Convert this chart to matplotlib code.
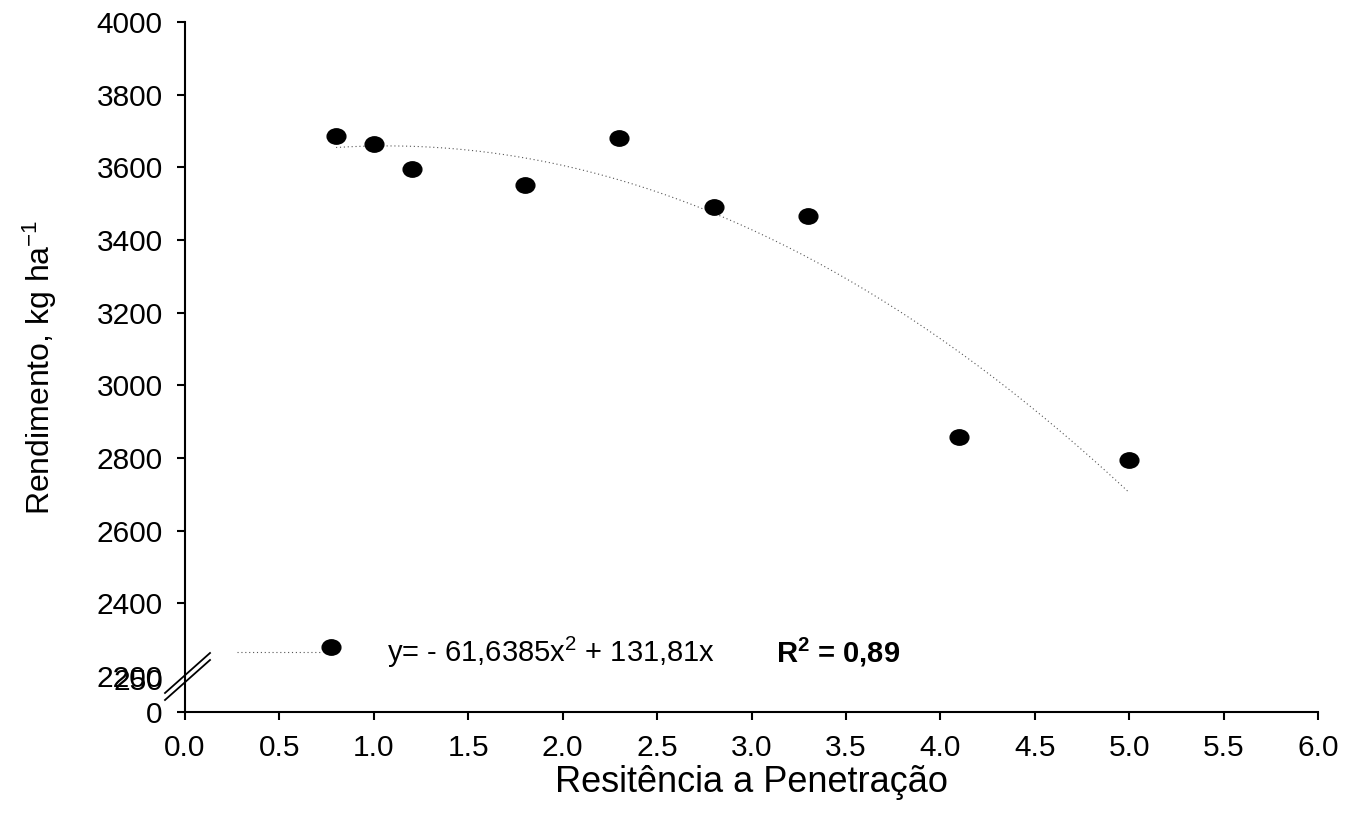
import numpy as np
import matplotlib
matplotlib.use("Agg")
import matplotlib.pyplot as plt
from matplotlib.path import Path
from matplotlib.transforms import Affine2D
from matplotlib.ticker import FixedLocator, FixedFormatter

plt.rcParams['font.family'] = ['Liberation Sans', 'DejaVu Sans']
plt.rcParams['mathtext.fontset'] = 'custom'
plt.rcParams['mathtext.rm'] = 'Liberation Sans'
plt.rcParams['mathtext.it'] = 'Liberation Sans'
plt.rcParams['mathtext.bf'] = 'Liberation Sans:bold'
plt.rcParams['axes.unicode_minus'] = False

# Data
resistencia = [0.8, 1.0, 1.2, 1.8, 2.3, 2.8, 3.3, 4.1, 5.0]
rendimento = [3685, 3664, 3595, 3550, 3680, 3492, 3465, 2858, 2795]
x_ticks = [0.0, 0.5, 1.0, 1.5, 2.0, 2.5, 3.0, 3.5, 4.0, 4.5, 5.0, 5.5, 6.0]
y_ticks_major = [0, 2400, 2600, 2800, 3000, 3200, 3400, 3600, 3800, 4000]
y_ticks_break = [250, 2200]
equation = r"y= - 61,6385x$^2$ + 131,81x"
r2_text = r"R$\mathbf{^2}$ = 0,89"

# Broken y-scale
def fwd(y):
    y = np.asarray(y, dtype=float)
    return np.where(y <= 250, y * (33.0 / 250),
           np.where(y <= 2200, 33 + (y - 250) * (3.0 / 1950),
                    36 + (y - 2200) * 0.3633))

def inv(v):
    v = np.asarray(v, dtype=float)
    return np.where(v <= 33, v * 250 / 33.0,
           np.where(v <= 36, 250 + (v - 33) * 1950 / 3.0,
                    2200 + (v - 36) / 0.3633))

W, H = 1346, 826
fig = plt.figure(figsize=(W / 100, H / 100), dpi=100)
ax = fig.add_axes([185 / W, 1 - 712 / H, (1318 - 185) / W, (712 - 22) / H])
ax.set_yscale('function', functions=(fwd, inv))
ax.set_xlim(0, 6)
ax.set_ylim(0, 4000)

# trend (quadratic fit of the points)
coef = np.polyfit(resistencia, rendimento, 2)
xs = np.linspace(min(resistencia), max(resistencia), 200)
ax.plot(xs, np.polyval(coef, xs), linestyle=(0, (1, 2.5)), color='#555555', linewidth=0.8)

ell = Path(Affine2D().scale(1.0, 0.82).transform(Path.unit_circle().vertices), Path.unit_circle().codes)
ax.plot(resistencia, rendimento, linestyle='none', marker=ell, markersize=13.5, color='black')

for s in ['top', 'right']:
    ax.spines[s].set_visible(False)
for s in ['left', 'bottom']:
    ax.spines[s].set_linewidth(1.5)

ax.set_xticks(x_ticks)
ax.set_xticklabels([f"{v:.1f}" for v in x_ticks])
ax.yaxis.set_major_locator(FixedLocator(y_ticks_major))
ax.yaxis.set_major_formatter(FixedFormatter([str(v) for v in y_ticks_major]))
ax.yaxis.set_minor_locator(FixedLocator(y_ticks_break))
ax.yaxis.set_minor_formatter(FixedFormatter([str(v) for v in y_ticks_break]))
ax.tick_params(axis='both', which='major', direction='out', length=6, width=1.5, labelsize=21.5, pad=10)
ax.tick_params(axis='y', which='minor', length=0, labelsize=21.5, pad=16)

ax.set_xlabel("Resitência a Penetração", fontsize=26)
ax.xaxis.set_label_coords(0.5, (712 - 782) / 690)
ax.xaxis.label.set_va('center')
ax.set_ylabel(r"Rendimento, kg ha$^{-1}$", fontsize=23)
ax.yaxis.set_label_coords((40 - 185) / 1133, 0.5)
ax.yaxis.label.set_va('center')

# break marks (figure pixel coords)
for dy in (0, 7):
    ax.plot([165, 210], [H - (700 - dy), H - (660 - dy)], transform=None, color='black',
            linewidth=1.3, clip_on=False)

# legend-like annotation
ax.plot([237, 320], [H - 652, H - 652], transform=None, linestyle=(0, (1, 2.5)), color='#555555',
        linewidth=0.8, clip_on=False)
ax.plot([331], [H - 647], transform=None, marker=ell, markersize=13.5, color='black',
        linestyle='none', clip_on=False)
fig.text(387 / W, 1 - 652 / H, equation, fontsize=21, va='center', ha='left')
fig.text(776 / W, 1 - 652 / H, r2_text, fontsize=21, va='center', ha='left', fontweight='bold')

fig.savefig("out.png", dpi=100)
